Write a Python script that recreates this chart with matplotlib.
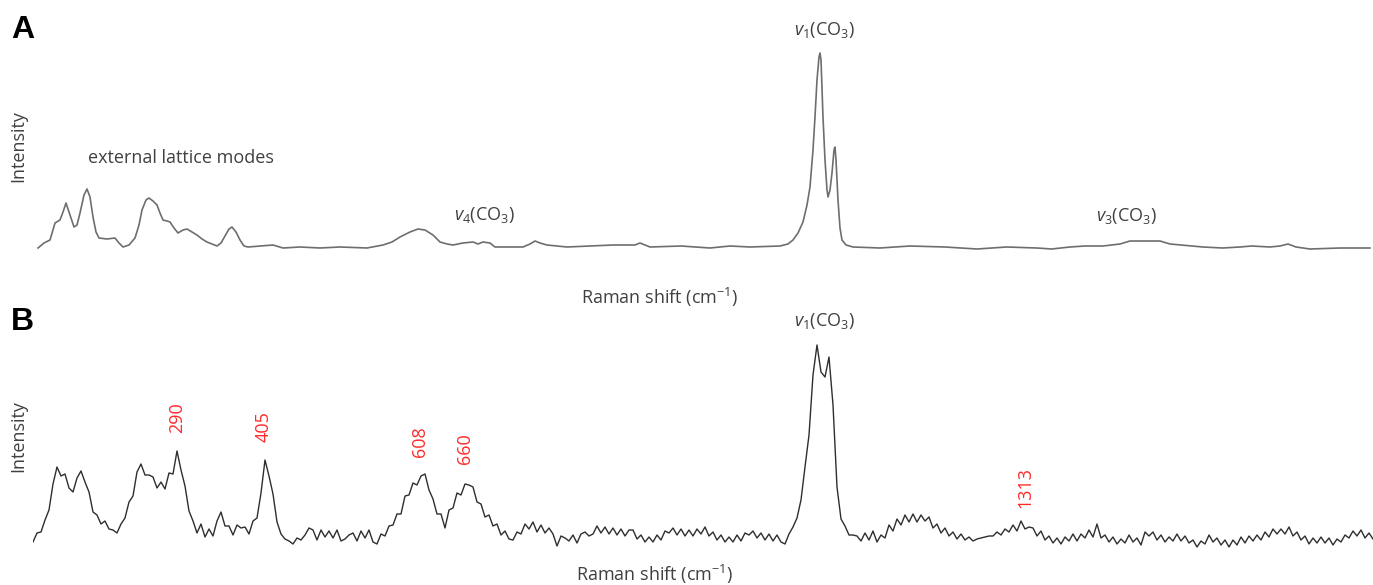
import numpy as np
import matplotlib
matplotlib.use("Agg")
import matplotlib.pyplot as plt

plt.rcParams['font.family'] = ['Open Sans', 'DejaVu Sans']
plt.rcParams['mathtext.fontset'] = 'custom'
plt.rcParams['mathtext.rm'] = 'Open Sans'
plt.rcParams['mathtext.it'] = 'Open Sans:italic'

# ---------------- Panel A: Raman shift (cm-1) and intensity (a.u.) ----------------
a_shift = [133.6, 140.8, 148, 154, 160, 163.6, 167.2, 172, 176.8, 180.4, 184, 188.8, 192.4,
           196, 199.6, 203.2, 206.8, 216.4, 226, 230.8, 235.6, 242.8, 250, 254.8, 258.4,
           263.2, 266.8, 271.6, 276.4, 280, 283.6, 288.4, 292, 296.8, 301.6, 307.6, 312.4,
           318.4, 324.4, 330.4, 336.4, 342.4, 348.4, 353.2, 358, 362.8, 366.4, 371.2, 376,
           380.8, 385.6, 400, 415.6, 427.6, 448, 472, 496, 528.4, 547.6, 558.4, 568, 580,
           589.6, 598, 607.6, 616, 624.4, 631.6, 643.6, 655.6, 661.6, 667.6, 676, 682, 700,
           715.6, 724, 730, 736, 744.4, 768.4, 796, 823.6, 850, 856, 862, 868, 905.2, 940,
           964, 988,
           1024, 1033.6, 1039.6, 1045.6, 1051.6, 1056.4, 1060, 1063.6, 1066, 1068.4, 1070.8,
           1072, 1073.2, 1074.4, 1075.6, 1078, 1080.4, 1081.6, 1084, 1086.4, 1088.8, 1090,
           1091.2, 1093.6, 1096, 1098.4, 1103.2, 1111.6, 1144, 1180, 1222, 1260.4, 1296,
           1332.4, 1350, 1372, 1390, 1411.6, 1432, 1444, 1462, 1480, 1492, 1531.6, 1555,
           1576, 1590, 1612, 1624, 1633.6, 1643.2, 1660, 1696, 1732]
a_intensity = [0, 5, 8, 25, 28, 36, 45, 33, 21, 23, 35, 53, 59,
               51, 31, 16, 10, 9, 10, 5, 1, 3, 10, 23, 38,
               48, 50, 47, 43, 35, 28, 27, 26, 20, 15, 18, 19,
               16, 13, 9, 6, 4, 2, 5, 12, 19, 21, 16, 8,
               2, 1, 2, 3, 0, 1, 0, 1, 0, 3, 6, 11, 16,
               19, 18, 13, 6, 4, 3, 5, 6, 4, 6, 5, 1, 1,
               1, 4, 7, 5, 3, 1, 2, 3, 3, 5, 3, 1, 2, 0,
               2, 1,
               2, 4, 8, 15, 26, 43, 61, 98, 131, 168, 191,
               195, 188, 158, 131, 88, 58, 51, 58, 75, 98, 101,
               88, 48, 20, 8, 3, 1, 0, 2, 1, -1, 1,
               0, -1, 1, 2, 2, 4, 7, 7, 7, 4, 1, 0,
               1, 2, 1, 2, 4, 1, -1, 0, 0]

# ---------------- Panel B: evenly spaced detector channels ----------------
b_shift_start, b_shift_end = 127.6, 1735.6
b_intensity = [
    3, 12, 13, 25, 35, 61, 78, 69, 71, 57,
    53, 67, 74, 63, 53, 33, 30, 21, 24, 16,
    15, 12, 21, 27, 43, 49, 73, 81, 70, 70,
    68, 57, 63, 56, 72, 71, 94, 75, 59, 34,
    24, 12, 21, 8, 16, 9, 24, 33, 19, 19,
    10, 20, 17, 18, 11, 24, 27, 52, 85, 69,
    51, 23, 11, 6, 4, 1, 7, 5, 10, 17,
    15, 5, 15, 8, 14, 7, 15, 4, 6, 10,
    12, 4, 14, 7, 15, 3, 1, 11, 9, 19,
    20, 31, 31, 49, 50, 62, 60, 69, 71, 55,
    46, 31, 31, 17, 35, 37, 52, 50, 61, 60,
    58, 43, 41, 28, 30, 19, 21, 10, 14, 6,
    5, 13, 11, 21, 16, 23, 13, 20, 12, 17,
    11, -1, 9, 7, 4, 10, 2, 11, 13, 9,
    11, 19, 12, 18, 11, 17, 10, 16, 9, 15,
    15, 6, 10, 3, 8, 3, 10, 5, 14, 12,
    17, 10, 16, 9, 15, 9, 16, 11, 18, 9,
    13, 5, 10, 3, 8, 3, 10, 4, 12, 10,
    14, 7, 12, 5, 11, 4, 10, 3, 1, 11,
    18, 27, 45, 78, 110, 170, 200, 173, 168, 188,
    140, 58, 26, 19, 10, 10, 9, 4, 12, 5,
    14, 3, 10, 7, 20, 14, 26, 20, 30, 23,
    31, 23, 30, 24, 28, 17, 21, 12, 17, 9,
    13, 6, 11, 5, 8, 4, 6, 7, 8, 9,
    9, 13, 10, 16, 13, 20, 14, 24, 16, 18,
    17, 9, 14, 5, 9, 2, 7, 1, 8, 4,
    11, 4, 11, 7, 15, 8, 21, 7, 10, 3,
    8, 1, 6, 2, 10, 3, 7, 0, 13, 9,
    13, 5, 10, 3, 8, 4, 11, 4, 9, 2,
    5, -2, 4, 1, 10, 3, 7, 0, 5, -2,
    5, 0, 8, 2, 9, 4, 10, 5, 13, 8,
    16, 11, 16, 11, 18, 9, 13, 5, 9, 1,
    7, 2, 8, 2, 7, 0, 6, 3, 10, 7,
    14, 9, 15, 7, 12, 6]

peak_labels = ["290", "405", "608", "660", "1313"]

# ---------------- figure ----------------
W, H = 1373, 585
fig = plt.figure(figsize=(W / 100, H / 100), dpi=100)

def fx(px):
    return px / W

def fy(py):
    return 1 - py / H

xlim = (127.6, 1735.6)
axA = fig.add_axes([fx(33), fy(260), fx(1340), 220 / H])
axB = fig.add_axes([fx(33), fy(555), fx(1340), 225 / H])

b_shift = np.linspace(b_shift_start, b_shift_end, len(b_intensity))

axA.plot(a_shift, a_intensity, color='#6e6e6e', lw=1.2)
axB.plot(b_shift, b_intensity, color='#2e2e2e', lw=1.0)

axA.set_xlim(*xlim)
axA.set_ylim(-12, 208)
axB.set_xlim(*xlim)
axB.set_ylim(-10, 215)
for ax in (axA, axB):
    ax.set_axis_off()

txt = '#404040'
fs = 13
# panel letters
fig.text(fx(11), fy(30), 'A', fontsize=23, fontweight='bold', family='Liberation Sans',
         ha='left', va='center', color='black')
fig.text(fx(11), fy(322), 'B', fontsize=23, fontweight='bold', family='Liberation Sans',
         ha='left', va='center', color='black')

# axis labels
for ypx in (146, 436):
    fig.text(fx(18), fy(ypx), 'Intensity', rotation=90, fontsize=fs, color=txt,
             ha='center', va='center')
fig.text(fx(660), fy(297), r'Raman shift (cm$^{-1}$)', fontsize=fs, color=txt,
         ha='center', va='center')
fig.text(fx(655), fy(574), r'Raman shift (cm$^{-1}$)', fontsize=fs, color=txt,
         ha='center', va='center')

# panel A annotations
axA.text(305, 90, 'external lattice modes', fontsize=fs, color=txt, ha='center', va='center')
axA.text(669, 33, r'$\mathit{v}_{4}$(CO$_{3}$)', fontsize=fs, color=txt, ha='center', va='center')
axA.text(1078, 218, r'$\mathit{v}_{1}$(CO$_{3}$)', fontsize=fs, color=txt, ha='center', va='center')
axA.text(1440, 32, r'$\mathit{v}_{3}$(CO$_{3}$)', fontsize=fs, color=txt, ha='center', va='center')

# panel B annotations
axB.text(1078, 224, r'$\mathit{v}_{1}$(CO$_{3}$)', fontsize=fs, color=txt, ha='center', va='center')
label_pos = [(300, 127), (404, 118), (592, 103), (646, 96), (1318, 58)]
for lab, (lx, ly) in zip(peak_labels, label_pos):
    axB.text(lx, ly, lab, rotation=90, fontsize=13, color='#ff2a2a', ha='center', va='center')

fig.savefig('out.png', dpi=100)
